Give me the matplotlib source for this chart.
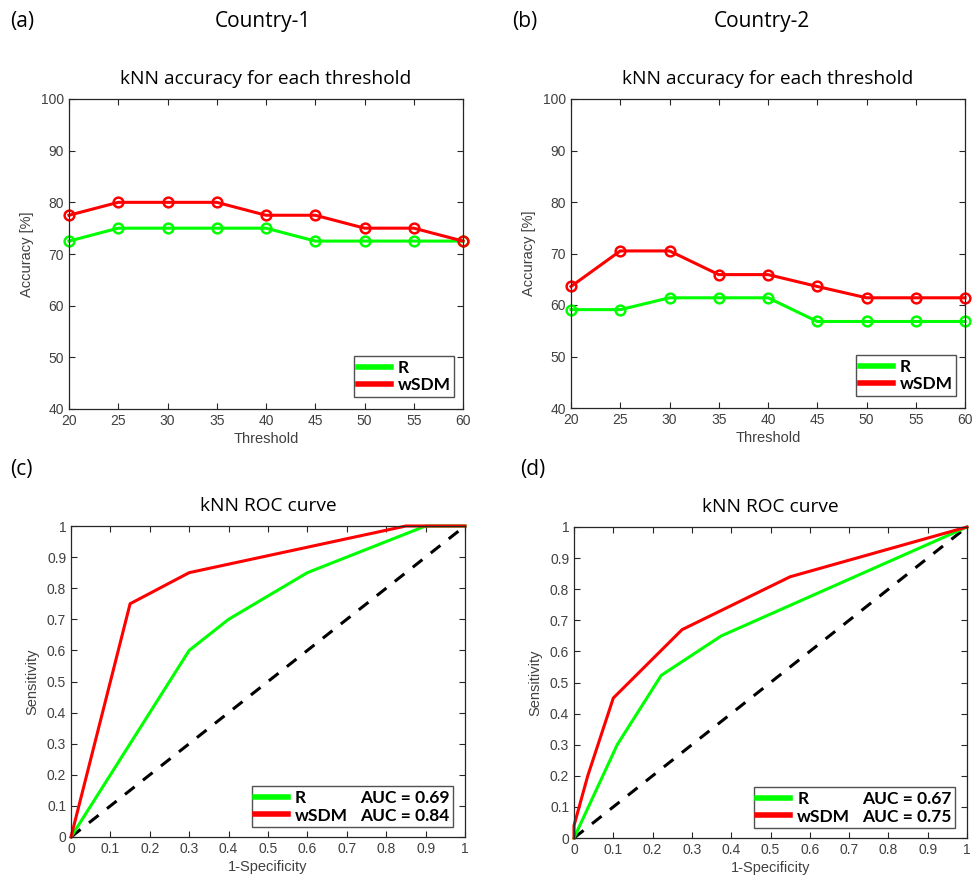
import matplotlib
matplotlib.use("Agg")
import matplotlib.pyplot as plt
from matplotlib.lines import Line2D

# datos: precision kNN por umbral
thresholds = [20, 25, 30, 35, 40, 45, 50, 55, 60]
acc1_R = [72.5, 75, 75, 75, 75, 72.5, 72.5, 72.5, 72.5]
acc1_wSDM = [77.5, 80, 80, 80, 77.5, 77.5, 75, 75, 72.5]
acc2_R = [59.1, 59.1, 61.4, 61.4, 61.4, 56.8, 56.8, 56.8, 56.8]
acc2_wSDM = [63.6, 70.5, 70.5, 65.9, 65.9, 63.6, 61.4, 61.4, 61.4]

# datos: curvas ROC
roc1_R_x = [0, 0.15, 0.3, 0.4, 0.6, 0.9, 1.0]
roc1_R_y = [0, 0.3, 0.6, 0.7, 0.85, 1.0, 1.0]
roc1_wSDM_x = [0, 0.15, 0.3, 0.85, 1.0]
roc1_wSDM_y = [0, 0.75, 0.85, 1.0, 1.0]
roc2_R_x = [0, 0.11, 0.222, 0.375, 1.0]
roc2_R_y = [0, 0.3, 0.523, 0.65, 1.0]
roc2_wSDM_x = [0, 0.0, 0.035, 0.1, 0.275, 0.55, 1.0]
roc2_wSDM_y = [0, 0.04, 0.2, 0.45, 0.67, 0.84, 1.0]
auc1 = ["AUC = 0.69", "AUC = 0.84"]
auc2 = ["AUC = 0.67", "AUC = 0.75"]

GREEN = "#00ff00"
RED = "#ff0000"
AXC = "#262626"
TICKC = "#404040"

W, H = 973, 877
fig = plt.figure(figsize=(W / 100, H / 100), dpi=100)


def px_axes(left, top, right, bottom):
    return fig.add_axes([left / W, 1 - bottom / H, (right - left) / W, (bottom - top) / H])


def style(ax):
    for s in ax.spines.values():
        s.set_color(AXC)
        s.set_linewidth(0.9)
    ax.tick_params(direction="in", top=True, right=True, length=4, width=0.8,
                   colors=AXC, labelcolor=TICKC, labelsize=10)
    for lab in ax.get_xticklabels() + ax.get_yticklabels():
        lab.set_family("Liberation Sans")


LEG_FONT = {"family": "Lato", "weight": "bold", "size": 12.5}


def acc_panel(ax, r, w):
    ax.plot(thresholds, r, color=GREEN, lw=2.2, marker="o", ms=7, mfc="none", mew=1.8)
    ax.plot(thresholds, w, color=RED, lw=2.2, marker="o", ms=7, mfc="none", mew=1.8)
    ax.set_xlim(20, 60)
    ax.set_ylim(40, 100)
    ax.set_xticks(thresholds)
    ax.set_yticks(range(40, 101, 10))
    for l in ax.lines:
        l.set_clip_on(False)
    ax.set_xlabel("Threshold", family="Liberation Sans", fontsize=10.5, color=TICKC, labelpad=3)
    ax.set_ylabel("Accuracy [%]", family="Liberation Sans", fontsize=10.5, color=TICKC, labelpad=5)
    ax.set_title("kNN accuracy for each threshold", family="Open Sans", fontsize=13.8, pad=11)
    handles = [Line2D([], [], color=GREEN, lw=4), Line2D([], [], color=RED, lw=4)]
    leg = ax.legend(handles, ["R", "wSDM"], loc="lower right", bbox_to_anchor=(0.977, 0.039),
                    prop=LEG_FONT, frameon=True, fancybox=False, edgecolor=AXC,
                    handlelength=1.9, handletextpad=0.4, borderpad=0.2, labelspacing=0.1,
                    borderaxespad=0)
    leg.get_frame().set_linewidth(1.0)
    style(ax)


def roc_panel(ax, rx, ry, wx, wy, aucs):
    ax.plot([0, 1], [0, 1], color="black", lw=2.2, ls=(0, (4, 3.5)))
    ax.plot(rx, ry, color=GREEN, lw=2.2)
    ax.plot(wx, wy, color=RED, lw=2.2)
    ax.set_xlim(0, 1)
    ax.set_ylim(0, 1)
    ticks = [i / 10 for i in range(11)]
    ax.set_xticks(ticks)
    ax.set_yticks(ticks)
    lbls = ["0"] + [f"{t:.1f}" for t in ticks[1:-1]] + ["1"]
    ax.set_xticklabels(lbls)
    ax.set_yticklabels(lbls)
    for l in ax.lines:
        l.set_clip_on(False)
    ax.set_xlabel("1-Specificity", family="Liberation Sans", fontsize=10.5, color=TICKC, labelpad=3)
    ax.set_ylabel("Sensitivity", family="Liberation Sans", fontsize=10.5, color=TICKC, labelpad=5)
    ax.set_title("kNN ROC curve", family="Open Sans", fontsize=13.8, pad=11)
    blank = Line2D([], [], color="none")
    handles = [Line2D([], [], color=GREEN, lw=4), Line2D([], [], color=RED, lw=4), blank, blank]
    leg = ax.legend(handles, ["R", "wSDM"] + aucs, ncol=2, loc="lower right",
                    bbox_to_anchor=(0.97, 0.032), prop=LEG_FONT,
                    frameon=True, fancybox=False, edgecolor=AXC, handlelength=1.9,
                    handletextpad=0.4, borderpad=0.2, labelspacing=0.1, borderaxespad=0,
                    columnspacing=-1.6)
    leg.get_frame().set_linewidth(1.0)
    style(ax)


ax_a = px_axes(69, 99, 463, 409)
acc_panel(ax_a, acc1_R, acc1_wSDM)
ax_b = px_axes(571, 99, 965, 408)
acc_panel(ax_b, acc2_R, acc2_wSDM)
ax_c = px_axes(71, 526, 465, 837)
roc_panel(ax_c, roc1_R_x, roc1_R_y, roc1_wSDM_x, roc1_wSDM_y, auc1)
ax_d = px_axes(574, 527, 967, 838)
roc_panel(ax_d, roc2_R_x, roc2_R_y, roc2_wSDM_x, roc2_wSDM_y, auc2)

# etiquetas de panel y paises
def ftext(x, y, s, ha="left", size=15):
    fig.text(x / W, 1 - y / H, s, ha=ha, va="center", family="Open Sans", fontsize=size)

ftext(10, 21, "(a)")
ftext(263, 21, "Country-1", ha="center")
ftext(512, 21, "(b)")
ftext(762, 21, "Country-2", ha="center")
ftext(10, 470, "(c)")
ftext(520, 470, "(d)")

fig.savefig("out.png", dpi=100)
